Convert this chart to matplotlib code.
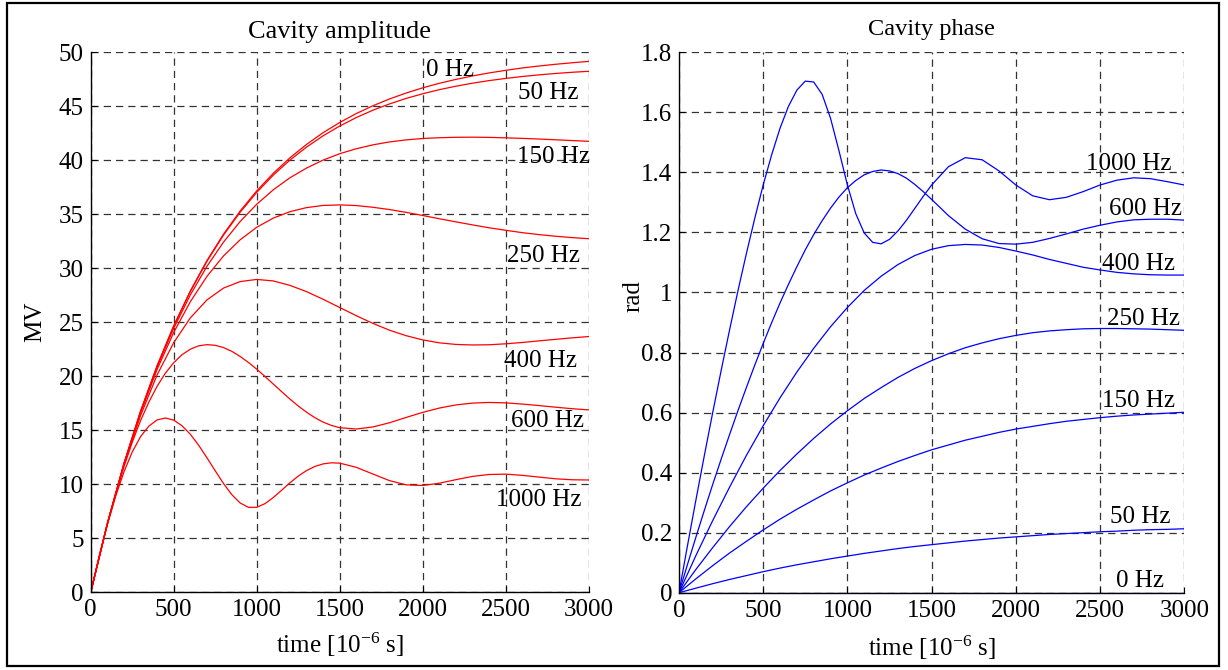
import numpy as np
import matplotlib
matplotlib.use("Agg")
import matplotlib.pyplot as plt
from matplotlib.patches import Rectangle
from matplotlib.ticker import FuncFormatter

# ---------------- data ----------------
t_us = [0, 100, 200, 300, 400, 500, 600, 700, 800, 900, 1000, 1100, 1200, 1300, 1400, 1500,
        1600, 1700, 1800, 1900, 2000, 2100, 2200, 2300, 2400, 2500, 2600, 2700, 2800, 2900, 3000]
t_fine = [0, 50, 100, 150, 200, 250, 300, 350, 400, 450, 500, 550, 600, 650, 700, 750, 800,
          850, 900, 950, 1000, 1050, 1100, 1150, 1200, 1250, 1300, 1350, 1400, 1450, 1500,
          1600, 1700, 1800, 1900, 2000, 2100, 2200, 2300, 2400, 2500, 2600, 2700, 2800, 2900, 3000]

detunings = ["0 Hz", "50 Hz", "150 Hz", "250 Hz", "400 Hz", "600 Hz", "1000 Hz"]

amp_0 = [0, 6.36, 11.91, 16.76, 20.98, 24.68, 27.90, 30.71, 33.16, 35.30, 37.17, 38.80, 40.23,
         41.47, 42.56, 43.50, 44.33, 45.05, 45.68, 46.23, 46.71, 47.13, 47.49, 47.81, 48.09,
         48.33, 48.55, 48.73, 48.89, 49.03, 49.16]
amp_50 = [0, 6.36, 11.91, 16.75, 20.97, 24.65, 27.86, 30.65, 33.08, 35.19, 37.03, 38.63, 40.02,
          41.22, 42.27, 43.17, 43.96, 44.64, 45.22, 45.73, 46.16, 46.54, 46.86, 47.14, 47.38,
          47.58, 47.76, 47.91, 48.04, 48.15, 48.24]
amp_150 = [0, 6.36, 11.89, 16.70, 20.86, 24.45, 27.54, 30.18, 32.43, 34.33, 35.93, 37.27, 38.38,
           39.28, 40.02, 40.61, 41.07, 41.43, 41.70, 41.89, 42.02, 42.09, 42.13, 42.14, 42.12,
           42.08, 42.03, 41.97, 41.90, 41.83, 41.76]
amp_250 = [0, 6.35, 11.86, 16.60, 20.65, 24.06, 26.91, 29.25, 31.15, 32.64, 33.80, 34.65, 35.24,
           35.62, 35.82, 35.87, 35.81, 35.65, 35.44, 35.18, 34.89, 34.59, 34.30, 34.02, 33.75,
           33.52, 33.30, 33.12, 32.97, 32.84, 32.74]
amp_400 = [0, 6.34, 11.79, 16.37, 20.13, 23.12, 25.41, 27.07, 28.17, 28.77, 28.97, 28.83, 28.42,
           27.84, 27.13, 26.37, 25.61, 24.90, 24.27, 23.76, 23.37, 23.10, 22.95, 22.90, 22.92,
           23.01, 23.13, 23.28, 23.42, 23.56, 23.68]
amp_600 = [0, 3.28, 6.32, 9.11, 11.63, 13.89, 15.89, 17.61, 19.08, 20.30, 21.26, 22.00, 22.51,
           22.82, 22.93, 22.87, 22.66, 22.31, 21.84, 21.28, 20.66, 19.98, 19.28, 18.58, 17.89,
           17.25, 16.68, 16.17, 15.76, 15.45, 15.24,
           15.12, 15.31, 15.70, 16.19, 16.66, 17.06, 17.35, 17.52, 17.58, 17.54, 17.43, 17.29,
           17.14, 17.00, 16.89]
amp_1000 = [0, 3.28, 6.26, 8.89, 11.15, 12.99, 14.41, 15.39, 15.96, 16.14, 15.94, 15.42, 14.63,
            13.62, 12.46, 11.25, 10.07, 9.04, 8.27, 7.87, 7.87, 8.21, 8.78, 9.45, 10.14, 10.76,
            11.27, 11.65, 11.89, 11.99, 11.96,
            11.57, 10.95, 10.34, 9.95, 9.89, 10.10, 10.43, 10.73, 10.91, 10.94, 10.83, 10.67,
            10.51, 10.42, 10.40]

ph_0 = [0.0] * 31
ph_50 = [0, 0.015, 0.030, 0.044, 0.057, 0.070, 0.082, 0.093, 0.103, 0.113, 0.122, 0.131, 0.139,
         0.147, 0.154, 0.160, 0.166, 0.172, 0.177, 0.182, 0.186, 0.190, 0.194, 0.197, 0.200,
         0.203, 0.205, 0.208, 0.210, 0.211, 0.213]
ph_150 = [0, 0.046, 0.090, 0.132, 0.171, 0.209, 0.245, 0.278, 0.309, 0.339, 0.366, 0.392, 0.415,
          0.437, 0.457, 0.476, 0.492, 0.508, 0.521, 0.534, 0.545, 0.554, 0.563, 0.571, 0.577,
          0.583, 0.588, 0.592, 0.595, 0.598, 0.601]
ph_250 = [0, 0.077, 0.150, 0.220, 0.286, 0.348, 0.407, 0.462, 0.514, 0.562, 0.606, 0.647, 0.683,
          0.717, 0.747, 0.773, 0.796, 0.816, 0.832, 0.846, 0.857, 0.866, 0.872, 0.876, 0.879,
          0.880, 0.880, 0.879, 0.878, 0.876, 0.874]
ph_400 = [0, 0.123, 0.240, 0.351, 0.457, 0.556, 0.649, 0.735, 0.814, 0.886, 0.950, 1.007, 1.054,
          1.093, 1.123, 1.144, 1.156, 1.160, 1.158, 1.150, 1.138, 1.125, 1.110, 1.097, 1.084,
          1.075, 1.067, 1.062, 1.059, 1.058, 1.058]
ph_600 = [0, 0.093, 0.184, 0.273, 0.360, 0.444, 0.526, 0.606, 0.683, 0.758, 0.830, 0.899, 0.965,
          1.027, 1.086, 1.142, 1.193, 1.239, 1.281, 1.318, 1.349, 1.373, 1.392, 1.403, 1.408,
          1.405, 1.396, 1.381, 1.360, 1.336, 1.310,
          1.256, 1.211, 1.179, 1.163, 1.161, 1.167, 1.180, 1.195, 1.211, 1.224, 1.235, 1.242,
          1.244, 1.244, 1.241]
ph_1000 = [0, 0.155, 0.307, 0.455, 0.599, 0.739, 0.874, 1.005, 1.129, 1.247, 1.358, 1.458, 1.547,
           1.620, 1.674, 1.704, 1.701, 1.660, 1.580, 1.472, 1.358, 1.262, 1.198, 1.167, 1.162,
           1.177, 1.205, 1.240, 1.280, 1.320, 1.358,
           1.419, 1.449, 1.442, 1.405, 1.358, 1.322, 1.309, 1.317, 1.336, 1.358, 1.374, 1.382,
           1.379, 1.369, 1.358]

# label anchor positions (data coords, text baseline, left aligned)
amp_label_x = [2020, 2576, 2570, 2506, 2490, 2532, 2442]
amp_label_y = [47.81, 45.65, 39.72, 30.61, 20.83, 15.28, 7.99]
ph_label_x = [2595, 2559, 2510, 2543, 2510, 2555, 2415]
ph_label_y = [0.018, 0.231, 0.618, 0.892, 1.075, 1.258, 1.408]

x_ticks = [0, 500, 1000, 1500, 2000, 2500, 3000]
amp_ticks = [0, 5, 10, 15, 20, 25, 30, 35, 40, 45, 50]
ph_ticks = [0, 0.2, 0.4, 0.6, 0.8, 1.0, 1.2, 1.4, 1.6, 1.8]

# ---------------- style ----------------
plt.rcParams['font.family'] = ['Liberation Serif', 'DejaVu Serif']
plt.rcParams['mathtext.fontset'] = 'custom'
plt.rcParams['mathtext.rm'] = 'Liberation Serif'
plt.rcParams['mathtext.it'] = 'Liberation Serif:italic'
plt.rcParams['axes.unicode_minus'] = True

FS = 18
fig = plt.figure(figsize=(12.28, 6.70), dpi=100)
fig.patch.set_facecolor('white')

axL = fig.add_axes([0.0739, 0.11597, 0.4055, 0.80597])
axR = fig.add_axes([0.5529, 0.11537, 0.4115, 0.80657])

def style(ax, yticks, ylim):
    ax.set_xlim(0, 3000)
    ax.set_ylim(*ylim)
    ax.set_xticks(x_ticks)
    ax.set_yticks(yticks)
    ax.spines['top'].set_visible(False)
    ax.spines['right'].set_visible(False)
    for s in ('left', 'bottom'):
        ax.spines[s].set_linewidth(1.0)
        ax.spines[s].set_color('black')
    ax.tick_params(axis='both', direction='in', length=4, width=0.8, labelsize=FS)
    ax.tick_params(axis='x', pad=5)
    ax.tick_params(axis='y', pad=5)
    ax.grid(True, color='#333333', linewidth=0.9, linestyle=(0, (5.8, 4.0)))
    ax.set_axisbelow(True)
    ax.yaxis.set_major_formatter(FuncFormatter(lambda v, p: '%g' % round(v, 2)))

style(axL, amp_ticks, (0, 50))
style(axR, ph_ticks, (0, 1.8))

amp_series = [amp_0, amp_50, amp_150, amp_250, amp_400]
for ys in amp_series:
    axL.plot(t_us, ys, color='#ff0000', lw=0.9)
axL.plot(t_fine, amp_600, color='#ff0000', lw=0.9)
axL.plot(t_fine, amp_1000, color='#ff0000', lw=0.9)

ph_series = [ph_0, ph_50, ph_150, ph_250, ph_400]
for ys in ph_series:
    axR.plot(t_us, ys, color='#0000ff', lw=0.9)
axR.plot(t_fine, ph_600, color='#0000ff', lw=0.9)
axR.plot(t_fine, ph_1000, color='#0000ff', lw=0.9)

for lab, x, y in zip(detunings, amp_label_x, amp_label_y):
    axL.text(x, y, lab, fontsize=FS, ha='left', va='baseline')
for lab, x, y in zip(detunings, ph_label_x, ph_label_y):
    axR.text(x, y, lab, fontsize=FS, ha='left', va='baseline')

# titles and axis labels
axL.text(0.5, 1.0259, 'Cavity amplitude', transform=axL.transAxes, ha='center',
         va='baseline', fontsize=19)
axR.text(0.5, 1.032, 'Cavity phase', transform=axR.transAxes, ha='center',
         va='baseline', fontsize=17.6)
axL.text(0.5, -0.1124, 'time [10$^{-6}$ s]', transform=axL.transAxes, ha='center',
         va='baseline', fontsize=FS)
axR.text(0.5, -0.1171, 'time [10$^{-6}$ s]', transform=axR.transAxes, ha='center',
         va='baseline', fontsize=FS)
axL.text(-0.1124, 0.5, 'MV', transform=axL.transAxes, ha='center', va='center',
         rotation=90, fontsize=FS)
axR.text(-0.091, 0.549, 'rad', transform=axR.transAxes, ha='center', va='center',
         rotation=90, fontsize=FS)

# figure border
fig.patches.append(Rectangle((7 / 1228, 1 - 666 / 670), 1212 / 1228, 663 / 670,
                             transform=fig.transFigure, fill=False, edgecolor='black',
                             linewidth=1.6))

fig.savefig('out.png', dpi=100)
